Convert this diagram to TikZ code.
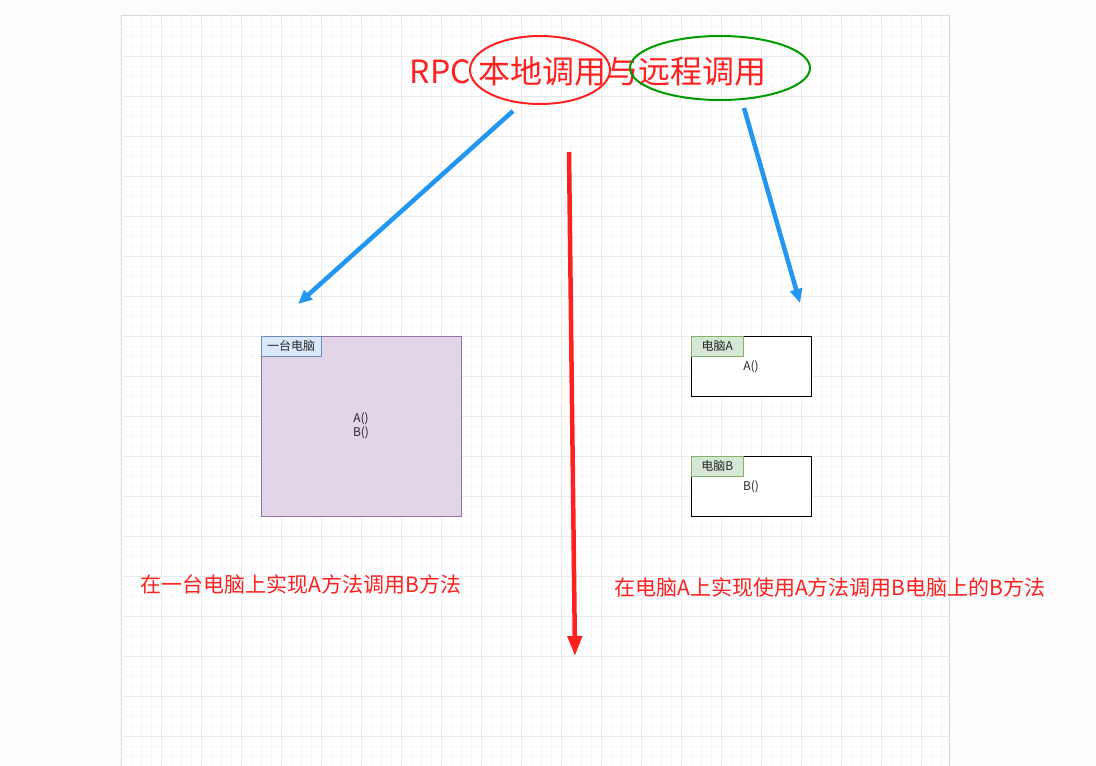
\documentclass[tikz,border=0pt]{standalone}
\usepackage{fontspec}
\setmainfont{Noto Sans CJK SC}
\usetikzlibrary{arrows.meta}
\definecolor{rred}{HTML}{FF2020}
\definecolor{bblue}{HTML}{2196F3}
\begin{document}
\begin{tikzpicture}[x=1pt,y=-1pt,
  lbl/.style={font=\fontsize{12}{14}\selectfont, text=black!85},
  note/.style={font=\fontsize{21}{24}\selectfont, text=rred},
  barrow/.style={draw=bblue, line width=4.5pt, -{Triangle[length=14pt,width=12pt]}},
]
\useasboundingbox (0,0) rectangle (1096,766);
\fill[gray!3] (0,0) rectangle (1096,766);
\fill[white] (121,15) rectangle (949,766);
\draw[gray!30] (121,15) -- (949,15) -- (949,766);
\draw[gray!30] (121,15) -- (121,766);
\foreach \x in {131,141,...,949} \draw[gray!6, line width=0.4pt] (\x,15) -- (\x,766);
\foreach \y in {26,36,...,766} \draw[gray!6, line width=0.4pt] (121,\y) -- (949,\y);
\foreach \x in {161,201,...,949} \draw[gray!16, line width=0.6pt] (\x,15) -- (\x,766);
\foreach \y in {56,96,...,766} \draw[gray!16, line width=0.6pt] (121,\y) -- (949,\y);

% title
\node[font=\fontsize{32}{36}\selectfont, text=rred] (title) at (588,71) {RPC 本地调用与远程调用};
\draw[rred, line width=2pt] (540,70) ellipse [x radius=70, y radius=34];
\draw[green!60!black, line width=2pt] (720,68) ellipse [x radius=90, y radius=32];

% left box
\node[draw={rgb,255:red,150;green,115;blue,166}, fill={rgb,255:red,225;green,213;blue,231}, minimum width=200pt, minimum height=180pt, inner sep=0, anchor=north west] (one) at (261,336) {};
\node[lbl, align=center] (oneText) at (361,426) {A()\\B()};
\node[draw={rgb,255:red,108;green,142;blue,191}, fill={rgb,255:red,218;green,232;blue,252}, minimum width=60pt, minimum height=20pt, inner sep=0, anchor=north west, lbl] (oneLbl) at (261,336) {一台电脑};

% right boxes
\node[draw=black, fill=white, minimum width=120pt, minimum height=60pt, inner sep=0, anchor=north west] (pa) at (691,336) {};
\node[draw={rgb,255:red,130;green,179;blue,102}, fill={rgb,255:red,213;green,232;blue,212}, minimum width=52pt, minimum height=20pt, inner sep=0, anchor=north west, lbl] (paLbl) at (691,336) {电脑A};
\node[lbl] (paText) at (751,367) {A()};
\node[draw=black, fill=white, minimum width=120pt, minimum height=60pt, inner sep=0, anchor=north west] (pb) at (691,456) {};
\node[draw={rgb,255:red,130;green,179;blue,102}, fill={rgb,255:red,213;green,232;blue,212}, minimum width=52pt, minimum height=20pt, inner sep=0, anchor=north west, lbl] (pbLbl) at (691,456) {电脑B};
\node[lbl] (pbText) at (751,487) {B()};

% notes
\node[note] (n1) at (301,584) {在一台电脑上实现A方法调用B方法};
\node[note] (n2) at (830,587) {在电脑A上实现使用A方法调用B电脑上的B方法};

% arrows
\coordinate (l1) at (513,111); \coordinate (l2) at (298,304);
\coordinate (r1) at (744,108); \coordinate (r2) at (800,303);
\coordinate (m1) at (569,152); \coordinate (m2) at (575,656);
\draw[barrow] (l1) -- (l2);
\draw[barrow] (r1) -- (r2);
\draw[draw=rred, line width=4.5pt, -{Triangle[length=20pt,width=14pt]}] (m1) -- (m2);
\end{tikzpicture}
\end{document}
